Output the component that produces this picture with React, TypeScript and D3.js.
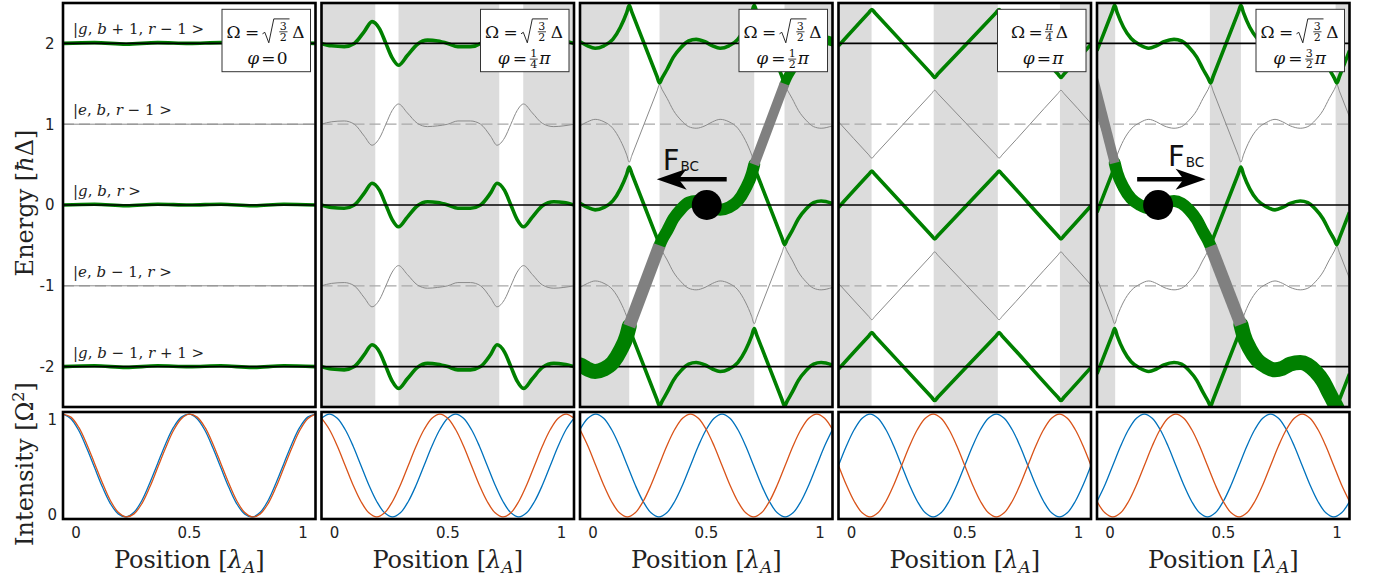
import React from 'react';
import * as d3 from 'd3';

type Pt = [number, number];

// ---------------- ticks / labels ----------------
const ENERGY_TICKS = [2, 1, 0, -1, -2];
const INTENSITY_TICKS = [1, 0];
const POSITION_TICKS = [0, 0.5, 1];
const SOLID_LEVELS = [-2, 0, 2];
const DASHED_LEVELS = [-1, 1];
const GREEN_LEVELS = [-4, -2, 0, 2, 4];
const GRAY_LEVELS = [-3, -1, 1, 3];

const STATE_LEVELS = [2, 1, 0, -1, -2];
const STATE_LABELS = [
  '|*g*, *b* + 1, *r* − 1 >',
  '|*e*, *b*, *r* − 1 >',
  '|*g*, *b*, *r* >',
  '|*e*, *b* − 1, *r* >',
  '|*g*, *b* − 1, *r* + 1 >',
];

const OMEGA_KIND = ['sqrt', 'sqrt', 'sqrt', 'frac', 'sqrt'];
const PHI_PLAIN = ['0', '', '', 'π', ''];
const PHI_NUM = ['', '1', '1', '', '3'];
const PHI_DEN = ['', '4', '2', '', '2'];

// ---------------- intensity curves (sampled on a 1/32 grid of the panel) ----------------
const INTENSITY_U = d3.range(33).map((k) => k / 32);
const BLUE_1 = [1, 0.955, 0.84, 0.67, 0.48, 0.29, 0.13, 0.03, 0, 0.045, 0.16, 0.33, 0.52, 0.71, 0.87, 0.97, 1, 0.955, 0.84, 0.67, 0.48, 0.29, 0.13, 0.03, 0, 0.045, 0.16, 0.33, 0.52, 0.71, 0.87, 0.97, 1];
const ORANGE_1 = [1, 0.97, 0.87, 0.71, 0.52, 0.33, 0.16, 0.045, 0, 0.03, 0.13, 0.29, 0.48, 0.67, 0.84, 0.955, 1, 0.97, 0.87, 0.71, 0.52, 0.33, 0.16, 0.045, 0, 0.03, 0.13, 0.29, 0.48, 0.67, 0.84, 0.955, 1];
const BLUE_2 = [0.96, 1, 0.96, 0.85, 0.69, 0.5, 0.31, 0.15, 0.04, 0, 0.04, 0.15, 0.31, 0.5, 0.69, 0.85, 0.96, 1, 0.96, 0.85, 0.69, 0.5, 0.31, 0.15, 0.04, 0, 0.04, 0.15, 0.31, 0.5, 0.69, 0.85, 0.96];
const ORANGE_2 = [0.96, 0.85, 0.69, 0.5, 0.31, 0.15, 0.04, 0, 0.04, 0.15, 0.31, 0.5, 0.69, 0.85, 0.96, 1, 0.96, 0.85, 0.69, 0.5, 0.31, 0.15, 0.04, 0, 0.04, 0.15, 0.31, 0.5, 0.69, 0.85, 0.96, 1, 0.96];
const BLUE_3 = [0.85, 0.96, 1, 0.96, 0.85, 0.69, 0.5, 0.31, 0.15, 0.04, 0, 0.04, 0.15, 0.31, 0.5, 0.69, 0.85, 0.96, 1, 0.96, 0.85, 0.69, 0.5, 0.31, 0.15, 0.04, 0, 0.04, 0.15, 0.31, 0.5, 0.69, 0.85];
const ORANGE_3 = [0.85, 0.69, 0.5, 0.31, 0.15, 0.04, 0, 0.04, 0.15, 0.31, 0.5, 0.69, 0.85, 0.96, 1, 0.96, 0.85, 0.69, 0.5, 0.31, 0.15, 0.04, 0, 0.04, 0.15, 0.31, 0.5, 0.69, 0.85, 0.96, 1, 0.96, 0.85];
const BLUE_4 = [0.5, 0.69, 0.85, 0.96, 1, 0.96, 0.85, 0.69, 0.5, 0.31, 0.15, 0.04, 0, 0.04, 0.15, 0.31, 0.5, 0.69, 0.85, 0.96, 1, 0.96, 0.85, 0.69, 0.5, 0.31, 0.15, 0.04, 0, 0.04, 0.15, 0.31, 0.5];
const ORANGE_4 = [0.5, 0.31, 0.15, 0.04, 0, 0.04, 0.15, 0.31, 0.5, 0.69, 0.85, 0.96, 1, 0.96, 0.85, 0.69, 0.5, 0.31, 0.15, 0.04, 0, 0.04, 0.15, 0.31, 0.5, 0.69, 0.85, 0.96, 1, 0.96, 0.85, 0.69, 0.5];
const BLUE_5 = [0.15, 0.31, 0.5, 0.69, 0.85, 0.96, 1, 0.96, 0.85, 0.69, 0.5, 0.31, 0.15, 0.04, 0, 0.04, 0.15, 0.31, 0.5, 0.69, 0.85, 0.96, 1, 0.96, 0.85, 0.69, 0.5, 0.31, 0.15, 0.04, 0, 0.04, 0.15];
const ORANGE_5 = [0.15, 0.04, 0, 0.04, 0.15, 0.31, 0.5, 0.69, 0.85, 0.96, 1, 0.96, 0.85, 0.69, 0.5, 0.31, 0.15, 0.04, 0, 0.04, 0.15, 0.31, 0.5, 0.69, 0.85, 0.96, 1, 0.96, 0.85, 0.69, 0.5, 0.31, 0.15];

// ---------------- dressed-state curves: offset from the bare level ----------------
const GREEN_1: Pt[] = [[0, 0], [0.125, 0.01], [0.25, -0.01], [0.375, 0.01], [0.5, 0], [0.625, 0.01], [0.75, -0.01], [0.875, 0.01], [1, 0]];
const GRAY_1: Pt[] = [[0, 0], [0.5, 0], [1, 0]];

const GREEN_2: Pt[] = [[0, 0], [0.04, -0.03], [0.09, -0.04], [0.13, 0], [0.17, 0.15], [0.2, 0.27], [0.23, 0.18], [0.255, 0], [0.28, -0.18], [0.305, -0.27], [0.34, -0.15], [0.38, -0.01], [0.42, 0.04], [0.46, 0.03], [0.5, 0], [0.54, -0.04], [0.59, -0.04], [0.63, 0], [0.67, 0.15], [0.695, 0.27], [0.725, 0.18], [0.75, 0], [0.775, -0.18], [0.8, -0.27], [0.835, -0.15], [0.875, -0.01], [0.92, 0.04], [0.96, 0.03], [1, 0]];
const GRAY_2: Pt[] = [[0, 0], [0.04, 0.03], [0.09, 0.04], [0.13, 0], [0.17, -0.15], [0.2, -0.26], [0.23, -0.17], [0.255, 0], [0.28, 0.17], [0.305, 0.25], [0.34, 0.14], [0.38, 0.01], [0.42, -0.03], [0.46, -0.02], [0.5, 0], [0.54, 0.04], [0.59, 0.04], [0.63, 0], [0.67, -0.15], [0.695, -0.26], [0.725, -0.17], [0.75, 0], [0.775, 0.17], [0.8, 0.25], [0.835, 0.14], [0.875, 0.01], [0.92, -0.03], [0.96, -0.02], [1, 0]];

const GREEN_3: Pt[] = [[0, 0.02], [0.03, -0.03], [0.06, -0.06], [0.095, -0.03], [0.13, 0.05], [0.16, 0.2], [0.185, 0.38], [0.195, 0.47], [0.205, 0.39], [0.305, -0.41], [0.315, -0.49], [0.325, -0.43], [0.345, -0.32], [0.37, -0.17], [0.4, -0.05], [0.43, 0.03], [0.46, 0.05], [0.495, 0.02], [0.525, -0.03], [0.555, -0.06], [0.59, -0.03], [0.625, 0.05], [0.655, 0.2], [0.68, 0.38], [0.69, 0.47], [0.7, 0.39], [0.8, -0.41], [0.81, -0.49], [0.82, -0.43], [0.84, -0.32], [0.865, -0.17], [0.895, -0.05], [0.925, 0.03], [0.955, 0.05], [1, 0.02]];
const GRAY_3: Pt[] = [[0, -0.02], [0.03, 0.03], [0.06, 0.06], [0.095, 0.03], [0.13, -0.05], [0.16, -0.2], [0.185, -0.38], [0.195, -0.47], [0.205, -0.39], [0.305, 0.41], [0.315, 0.49], [0.325, 0.43], [0.345, 0.32], [0.37, 0.17], [0.4, 0.05], [0.43, -0.03], [0.46, -0.05], [0.495, -0.02], [0.525, 0.03], [0.555, 0.06], [0.59, 0.03], [0.625, -0.05], [0.655, -0.2], [0.68, -0.38], [0.69, -0.47], [0.7, -0.39], [0.8, 0.41], [0.81, 0.49], [0.82, 0.43], [0.84, 0.32], [0.865, 0.17], [0.895, 0.05], [0.925, -0.03], [0.955, -0.05], [1, -0.02]];

const GREEN_4: Pt[] = [[0, -0.03], [0.12, 0.38], [0.132, 0.42], [0.144, 0.38], [0.369, -0.38], [0.381, -0.42], [0.393, -0.38], [0.624, 0.38], [0.636, 0.42], [0.648, 0.38], [0.869, -0.38], [0.881, -0.42], [0.893, -0.38], [1, -0.01]];
const GRAY_4: Pt[] = [[0, 0.03], [0.12, -0.38], [0.132, -0.42], [0.144, -0.38], [0.369, 0.38], [0.381, 0.42], [0.393, 0.38], [0.624, -0.38], [0.636, -0.42], [0.648, -0.38], [0.869, 0.38], [0.881, 0.42], [0.893, 0.38], [1, 0.01]];

const GREEN_5: Pt[] = [[0, -0.09], [0.06, 0.39], [0.07, 0.47], [0.08, 0.38], [0.105, 0.2], [0.135, 0.06], [0.17, -0.02], [0.205, -0.06], [0.235, -0.03], [0.265, 0.02], [0.305, 0.05], [0.335, 0.03], [0.365, -0.05], [0.395, -0.17], [0.42, -0.32], [0.44, -0.43], [0.45, -0.49], [0.46, -0.41], [0.56, 0.39], [0.57, 0.47], [0.58, 0.38], [0.605, 0.2], [0.635, 0.06], [0.67, -0.02], [0.705, -0.06], [0.735, -0.03], [0.765, 0.02], [0.805, 0.05], [0.835, 0.03], [0.865, -0.05], [0.895, -0.17], [0.92, -0.32], [0.94, -0.43], [0.95, -0.49], [0.96, -0.41], [1, -0.09]];
const GRAY_5: Pt[] = [[0, 0.09], [0.06, -0.39], [0.07, -0.47], [0.08, -0.38], [0.105, -0.2], [0.135, -0.06], [0.17, 0.02], [0.205, 0.06], [0.235, 0.03], [0.265, -0.02], [0.305, -0.05], [0.335, -0.03], [0.365, 0.05], [0.395, 0.17], [0.42, 0.32], [0.44, 0.43], [0.45, 0.49], [0.46, 0.41], [0.56, -0.39], [0.57, -0.47], [0.58, -0.38], [0.605, -0.2], [0.635, -0.06], [0.67, 0.02], [0.705, 0.06], [0.735, 0.03], [0.765, -0.02], [0.805, -0.05], [0.835, -0.03], [0.865, 0.05], [0.895, 0.17], [0.92, 0.32], [0.94, 0.43], [0.95, 0.49], [0.96, 0.41], [1, 0.09]];

// ---------------- shaded position bands ----------------
const SHADE_1: Pt[] = [];
const SHADE_2: Pt[] = [[0, 0.213], [0.305, 0.704], [0.799, 1]];
const SHADE_3: Pt[] = [[0, 0.195], [0.315, 0.69], [0.81, 1]];
const SHADE_4: Pt[] = [[0, 0.131], [0.377, 0.631], [0.877, 1]];
const SHADE_5: Pt[] = [[0, 0.072], [0.447, 0.57], [0.945, 1]];

// ---------------- thick adiabatic paths (absolute energy) ----------------
const PATH3_A: Pt[] = [[-0.02, -1.97], [0, -1.98], [0.03, -2.03], [0.06, -2.06], [0.095, -2.03], [0.13, -1.95], [0.16, -1.8], [0.185, -1.62], [0.195, -1.5]];
const PATH3_B: Pt[] = [[0.195, -1.5], [0.315, -0.5]];
const PATH3_C: Pt[] = [[0.315, -0.5], [0.325, -0.43], [0.345, -0.32], [0.37, -0.17], [0.4, -0.05], [0.43, 0.03], [0.46, 0.05], [0.495, 0.02], [0.525, -0.03], [0.555, -0.06], [0.59, -0.03], [0.625, 0.05], [0.655, 0.2], [0.68, 0.38], [0.69, 0.5]];
const PATH3_D: Pt[] = [[0.69, 0.5], [0.81, 1.5]];
const PATH3_E: Pt[] = [[0.81, 1.5], [0.82, 1.57], [0.84, 1.68], [0.865, 1.83], [0.895, 1.95], [0.925, 2.03], [0.955, 2.05], [1, 2.02], [1.02, 2.0]];

const PATH5_A: Pt[] = [[-0.02, 1.62], [0.07, 0.52]];
const PATH5_B: Pt[] = [[0.07, 0.52], [0.08, 0.4], [0.105, 0.22], [0.135, 0.08], [0.17, 0], [0.205, -0.04], [0.24, -0.02], [0.27, 0.02], [0.305, 0.05], [0.335, 0.02], [0.365, -0.06], [0.395, -0.18], [0.42, -0.33], [0.44, -0.44], [0.45, -0.51]];
const PATH5_C: Pt[] = [[0.45, -0.51], [0.57, -1.48]];
const PATH5_D: Pt[] = [[0.57, -1.48], [0.58, -1.6], [0.605, -1.78], [0.635, -1.92], [0.67, -2.0], [0.705, -2.04], [0.735, -2.02], [0.765, -1.97], [0.805, -1.95], [0.835, -1.98], [0.865, -2.06], [0.895, -2.18], [0.92, -2.33], [0.94, -2.45], [0.95, -2.51], [0.97, -2.7]];

// ---------------- annotations (data coordinates) ----------------
const BALLS = [{ panel: 2, u: 0.502, e: 0 }, { panel: 4, u: 0.242, e: 0 }];
const FORCE_ARROWS = [{ panel: 2, uFrom: 0.581, uTo: 0.304, e: 0.32 }, { panel: 4, uFrom: 0.159, uTo: 0.43, e: 0.32 }];
const FORCE_LABELS = [{ panel: 2, u: 0.328, e: 0.43 }, { panel: 4, u: 0.281, e: 0.48 }];

// ---------------- tables built from the arrays ----------------
const BLUE_SERIES = [BLUE_1, BLUE_2, BLUE_3, BLUE_4, BLUE_5];
const ORANGE_SERIES = [ORANGE_1, ORANGE_2, ORANGE_3, ORANGE_4, ORANGE_5];
const GREEN_SERIES = [GREEN_1, GREEN_2, GREEN_3, GREEN_4, GREEN_5];
const GRAY_SERIES = [GRAY_1, GRAY_2, GRAY_3, GRAY_4, GRAY_5];
const SHADES = [SHADE_1, SHADE_2, SHADE_3, SHADE_4, SHADE_5];
const PATH_RUNS: Record<number, { pts: Pt[]; gray: boolean; w: number }[]> = {
  2: [
    { pts: PATH3_A, gray: false, w: 15 },
    { pts: PATH3_C, gray: false, w: 12 },
    { pts: PATH3_E, gray: false, w: 9.5 },
    { pts: PATH3_B, gray: true, w: 12.5 },
    { pts: PATH3_D, gray: true, w: 10 },
  ],
  4: [
    { pts: PATH5_B, gray: false, w: 12 },
    { pts: PATH5_D, gray: false, w: 15 },
    { pts: PATH5_A, gray: true, w: 10 },
    { pts: PATH5_C, gray: true, w: 12.5 },
  ],
};

// ---------------- styling ----------------
const SERIF = "'DejaVu Serif', serif";
const SANS = "'DejaVu Sans', sans-serif";
const GREEN = '#008000';
const PATH_GRAY = '#808080';
const BLUE = '#0072BD';
const ORANGE = '#D95319';
const SHADE = '#dcdcdc';
const TXT = '#222';

const PANEL_X0 = 63;
const PANEL_STEP = 258.5;
const PANEL_W = 252.5;
const TOP_Y0 = 3;
const TOP_Y1 = 407;
const BOT_Y0 = 412;
const BOT_Y1 = 519;
const BOX_W = 88.5;
const BOX_H = 62.4;

function mathSpans(s: string) {
  return s.split('*').map((p, k) => (
    <tspan key={k} fontStyle={k % 2 === 1 ? 'italic' : 'normal'}>{p}</tspan>
  ));
}

function OmegaBox({ x, y, i }: { x: number; y: number; i: number }) {
  const cx = BOX_W / 2;
  const l1 = 28.4;
  const l2 = 54.7;
  return (
    <g transform={`translate(${x},${y})`} fontFamily={SERIF} fill="#111">
      <rect x={0} y={0} width={BOX_W} height={BOX_H} fill="#fff" stroke="#333" strokeWidth={1} />
      {OMEGA_KIND[i] === 'sqrt' ? (
        <g>
          <text x={11.5} y={l1} fontSize={17} textAnchor="middle">Ω</text>
          <text x={30} y={l1} fontSize={17} textAnchor="middle">=</text>
          <path d="M40.5,24.5 L42.8,23 L46.8,33.5 L51.8,9.6 L67.5,9.6" fill="none" stroke="#111" strokeWidth={0.9} />
          <text x={61.3} y={20.3} fontSize={11} textAnchor="middle">3</text>
          <line x1={57.3} x2={65.5} y1={22.5} y2={22.5} stroke="#111" strokeWidth={0.8} />
          <text x={61.3} y={31.3} fontSize={11} textAnchor="middle">2</text>
          <text x={76.5} y={l1} fontSize={17} textAnchor="middle">Δ</text>
        </g>
      ) : (
        <g>
          <text x={20.5} y={l1} fontSize={17} textAnchor="middle">Ω</text>
          <text x={38} y={l1} fontSize={17} textAnchor="middle">=</text>
          <text x={51.5} y={20.3} fontSize={11} textAnchor="middle" fontStyle="italic">π</text>
          <line x1={47.5} x2={55.5} y1={22.5} y2={22.5} stroke="#111" strokeWidth={0.8} />
          <text x={51.5} y={31.3} fontSize={11} textAnchor="middle">4</text>
          <text x={64.5} y={l1} fontSize={17} textAnchor="middle">Δ</text>
        </g>
      )}
      {PHI_PLAIN[i] ? (
        <g>
          <text x={cx - 13} y={l2} fontSize={17} textAnchor="middle" fontStyle="italic">φ</text>
          <text x={cx + 2} y={l2} fontSize={17} textAnchor="middle">=</text>
          <text x={cx + 16} y={l2} fontSize={17} textAnchor="middle" fontStyle={PHI_PLAIN[i] === 'π' ? 'italic' : 'normal'}>{PHI_PLAIN[i]}</text>
        </g>
      ) : (
        <g>
          <text x={cx - 21} y={l2} fontSize={17} textAnchor="middle" fontStyle="italic">φ</text>
          <text x={cx - 5} y={l2} fontSize={17} textAnchor="middle">=</text>
          <text x={cx + 9} y={47.6} fontSize={11} textAnchor="middle">{PHI_NUM[i]}</text>
          <line x1={cx + 5} x2={cx + 13} y1={49.8} y2={49.8} stroke="#111" strokeWidth={0.8} />
          <text x={cx + 9} y={58.8} fontSize={11} textAnchor="middle">{PHI_DEN[i]}</text>
          <text x={cx + 20} y={l2} fontSize={17} textAnchor="middle" fontStyle="italic">π</text>
        </g>
      )}
    </g>
  );
}

function Arrow({ x0, x1, y }: { x0: number; x1: number; y: number }) {
  const dir = Math.sign(x1 - x0);
  const back = x1 - dir * 30;
  const notch = x1 - dir * 22;
  return (
    <g>
      <line x1={x0} x2={notch + dir * 2} y1={y} y2={y} stroke="#000" strokeWidth={4.5} />
      <path d={`M${x1},${y} L${back},${y - 10.5} L${notch},${y} L${back},${y + 10.5} Z`} fill="#000" />
    </g>
  );
}

export default function App() {
  const yE = d3.scaleLinear().domain([-2.5, 2.5]).range([TOP_Y1, TOP_Y0]);
  const yI = d3.scaleLinear().domain([-0.02, 1.02]).range([BOT_Y1, BOT_Y0]);
  const yILabel = d3.scaleLinear().domain([0, 1]).range([515, 420]);

  const panels = [0, 1, 2, 3, 4].map((i) => {
    const x0 = PANEL_X0 + i * PANEL_STEP;
    return { i, x0, x1: x0 + PANEL_W };
  });

  return (
    <svg width={1380} height={583} style={{ position: 'absolute', left: 0, top: 0, background: '#fff' }}>
      <defs>
        {panels.map((p) => (
          <React.Fragment key={p.i}>
            <clipPath id={`ct${p.i}`}><rect x={p.x0} y={TOP_Y0} width={PANEL_W} height={TOP_Y1 - TOP_Y0} /></clipPath>
            <clipPath id={`cb${p.i}`}><rect x={p.x0} y={BOT_Y0} width={PANEL_W} height={BOT_Y1 - BOT_Y0} /></clipPath>
          </React.Fragment>
        ))}
      </defs>
      <rect x={0} y={0} width={1380} height={583} fill="#fff" />

      {/* y axis titles */}
      <text transform={`translate(33,203) rotate(-90)`} textAnchor="middle" fontFamily={SERIF} fontSize={24} fill={TXT} style={{ whiteSpace: 'pre' }}>
        Energy [<tspan fontStyle="italic">ħ</tspan>Δ]
      </text>
      <text transform={`translate(33,464) rotate(-90)`} textAnchor="middle" fontFamily={SERIF} fontSize={24} fill={TXT} style={{ whiteSpace: 'pre' }}>
        Intensity [Ω<tspan dy={-9} fontSize={16}>2</tspan><tspan dy={9}>]</tspan>
      </text>

      {/* y tick labels */}
      {ENERGY_TICKS.map((v) => (
        <text key={`et${v}`} x={54.5} y={yE(v)} dy="0.36em" textAnchor="end" fontFamily={SANS} fontSize={15} fill={TXT}>{String(v)}</text>
      ))}
      {INTENSITY_TICKS.map((v) => (
        <text key={`it${v}`} x={57} y={yILabel(v)} dy="0.36em" textAnchor="end" fontFamily={SANS} fontSize={15} fill={TXT}>{String(v)}</text>
      ))}

      {panels.map(({ i, x0, x1 }) => {
        const xU = d3.scaleLinear().domain([0, 1]).range([x0, x1]);
        const xTick = d3.scaleLinear().domain([0, 1]).range([x0 + 13, x0 + 240]);
        const levelLine = (level: number) =>
          d3.line<Pt>().x((d) => xU(d[0])).y((d) => yE(d[1] + level)).curve(d3.curveMonotoneX);
        const absLine = d3.line<Pt>().x((d) => xU(d[0])).y((d) => yE(d[1])).curve(d3.curveMonotoneX);
        const intLine = d3.line<number>().x((_, k) => xU(INTENSITY_U[k])).y((v) => yI(v)).curve(d3.curveCatmullRom);
        const runs = PATH_RUNS[i] || [];
        return (
          <g key={i}>
            {/* ---------- top panel ---------- */}
            <g clipPath={`url(#ct${i})`}>
              <rect x={x0} y={TOP_Y0} width={PANEL_W} height={TOP_Y1 - TOP_Y0} fill="#fff" />
              {SHADES[i].map(([a, b], k) => (
                <rect key={k} x={xU(a)} y={TOP_Y0} width={xU(b) - xU(a)} height={TOP_Y1 - TOP_Y0} fill={SHADE} />
              ))}
              {DASHED_LEVELS.map((lv) => (
                <line key={`d${lv}`} x1={x0} x2={x1} y1={yE(lv)} y2={yE(lv)} stroke="#a8a8a8" strokeWidth={1.3} strokeDasharray="11,5" />
              ))}
              {GRAY_LEVELS.map((lv) => (
                <path key={`g${lv}`} d={levelLine(lv)(GRAY_SERIES[i]) || ''} fill="none" stroke="#8a8a8a" strokeWidth={1} />
              ))}
              {GREEN_LEVELS.map((lv) => (
                <path key={`G${lv}`} d={levelLine(lv)(GREEN_SERIES[i]) || ''} fill="none" stroke={GREEN} strokeWidth={3.6} strokeLinejoin="round" />
              ))}
              {SOLID_LEVELS.map((lv) => (
                <line key={`s${lv}`} x1={x0} x2={x1} y1={yE(lv)} y2={yE(lv)} stroke="#000" strokeWidth={1.6} />
              ))}
              {runs.map((r, k) => (
                <path key={`r${k}`} d={absLine(r.pts) || ''} fill="none" stroke={r.gray ? PATH_GRAY : GREEN} strokeWidth={r.w} strokeLinecap={r.gray ? 'butt' : 'round'} strokeLinejoin="round" />
              ))}
              {BALLS.filter((b) => b.panel === i).map((b, k) => (
                <circle key={`b${k}`} cx={xU(b.u)} cy={yE(b.e)} r={15} fill="#000" />
              ))}
            </g>
            {FORCE_ARROWS.filter((a) => a.panel === i).map((a, k) => (
              <Arrow key={`a${k}`} x0={xU(a.uFrom)} x1={xU(a.uTo)} y={yE(a.e)} />
            ))}
            {FORCE_LABELS.filter((a) => a.panel === i).map((a, k) => (
              <text key={`f${k}`} x={xU(a.u)} y={yE(a.e)} fontFamily={SANS} fontSize={29} fill="#111">
                F<tspan dx={1} dy={1} fontSize={13.5}>BC</tspan>
              </text>
            ))}
            {i === 0 &&
              STATE_LEVELS.map((lv, k) => (
                <text key={`sl${k}`} x={x0 + 10} y={yE(lv) - 9} fontFamily={SERIF} fontSize={15} fill={TXT} style={{ whiteSpace: 'pre' }}>
                  {mathSpans(STATE_LABELS[k])}
                </text>
              ))}
            <OmegaBox x={x1 - 5 - BOX_W} y={9.3} i={i} />
            <rect x={x0} y={TOP_Y0} width={PANEL_W} height={TOP_Y1 - TOP_Y0} fill="none" stroke="#000" strokeWidth={2.6} />

            {/* ---------- bottom panel ---------- */}
            <rect x={x0} y={BOT_Y0} width={PANEL_W} height={BOT_Y1 - BOT_Y0} fill="#fff" />
            <g clipPath={`url(#cb${i})`}>
              <path d={intLine(BLUE_SERIES[i]) || ''} fill="none" stroke={BLUE} strokeWidth={1.3} />
              <path d={intLine(ORANGE_SERIES[i]) || ''} fill="none" stroke={ORANGE} strokeWidth={1.3} />
            </g>
            <rect x={x0} y={BOT_Y0} width={PANEL_W} height={BOT_Y1 - BOT_Y0} fill="none" stroke="#000" strokeWidth={2.6} />

            {POSITION_TICKS.map((t) => (
              <text key={`xt${t}`} x={xTick(t)} y={538} textAnchor="middle" fontFamily={SANS} fontSize={15} fill={TXT}>{String(t)}</text>
            ))}
            <text x={(x0 + x1) / 2} y={568} textAnchor="middle" fontFamily={SERIF} fontSize={24} fill={TXT} style={{ whiteSpace: 'pre' }}>
              Position [<tspan fontStyle="italic">λ</tspan><tspan dy={5} fontSize={17} fontStyle="italic">A</tspan><tspan dy={-5}>]</tspan>
            </text>
          </g>
        );
      })}
    </svg>
  );
}
